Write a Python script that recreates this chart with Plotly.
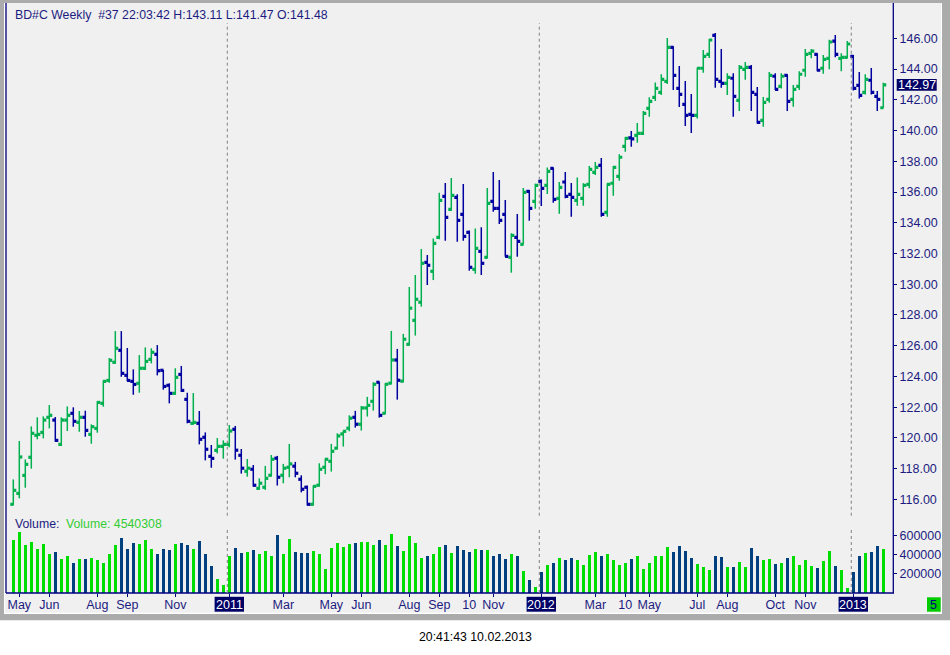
import pandas as pd
import plotly.graph_objects as go

# ---------------- data ----------------
first_week = "2010-05-02"

opens = [115.68, 116.39, 117.56, 118.74, 120.17, 120.36, 121.34, 121.16, 119.58, 121.16,
         121.60, 121.01, 121.34, 120.23, 120.62, 122.25, 123.74, 124.92, 125.70, 124.07,
         123.68, 123.55, 124.53, 125.11, 125.44, 124.40, 123.42, 122.90, 124.13, 122.51,
         120.95, 120.95, 120.04, 118.80, 119.19, 119.45, 119.58, 120.56, 118.87, 117.83,
         117.96, 116.72, 116.79, 117.57, 118.68, 117.57, 118.09, 118.16, 117.31, 116.79,
         115.68, 116.92, 118.09, 118.48, 119.33, 120.26, 120.63, 121.34, 120.89, 121.95,
         122.38, 123.62, 121.60, 123.56, 125.07, 123.69, 126.09, 127.65, 128.83, 131.42,
         130.84, 133.05, 135.72, 134.87, 135.65, 134.54, 133.37, 130.97, 132.14, 131.75,
         135.39, 134.93, 134.54, 131.75, 133.05, 132.59, 136.04, 135.39, 136.69, 136.43,
         137.54, 135.59, 136.65, 135.85, 135.46, 135.59, 136.50, 137.28, 137.73, 134.68,
         136.57, 137.02, 138.97, 139.52, 139.69, 139.82, 141.44, 142.16, 142.48, 143.20,
         145.41, 142.74, 141.70, 141.05, 140.99, 144.05, 144.96, 146.19, 143.20, 143.07,
         143.40, 141.96, 143.98, 144.11, 142.35, 140.66, 142.03, 143.53, 142.87, 143.59,
         142.03, 142.87, 143.92, 145.02, 144.96, 144.05, 144.70, 145.82, 144.70, 144.76,
         144.83, 142.94, 142.48, 143.27, 142.22, 141.48]

highs = [117.30, 119.80, 118.60, 120.75, 121.34, 121.40, 122.14, 121.36, 121.34, 122.05,
         121.99, 121.75, 121.77, 120.88, 122.40, 123.74, 125.20, 126.95, 126.95, 125.85,
         124.46, 125.39, 125.89, 125.83, 126.04, 124.42, 123.55, 124.53, 124.68, 122.94,
         122.92, 121.75, 120.36, 119.54, 119.99, 119.84, 120.84, 120.78, 119.28, 118.63,
         118.24, 117.37, 118.18, 118.89, 118.83, 118.31, 119.61, 118.44, 117.57, 116.90,
         116.90, 118.35, 118.68, 119.61, 120.30, 120.48, 121.47, 121.76, 122.08, 122.67,
         123.62, 123.66, 123.56, 126.96, 125.79, 126.77, 129.82, 130.60, 132.29, 131.90,
         132.98, 135.95, 136.58, 136.91, 135.85, 136.52, 133.50, 133.63, 133.70, 136.26,
         137.30, 136.78, 135.48, 133.31, 134.57, 136.26, 136.13, 136.54, 136.82, 137.60,
         137.60, 136.65, 137.30, 136.58, 136.95, 136.57, 137.69, 137.95, 138.21, 136.57,
         137.69, 138.45, 139.58, 139.97, 140.49, 141.27, 142.16, 143.13, 143.66, 146.02,
         145.48, 144.20, 143.22, 142.37, 144.10, 145.24, 145.95, 146.35, 145.30, 143.72,
         143.72, 144.26, 144.46, 144.26, 142.83, 142.18, 143.81, 143.72, 143.72, 143.66,
         142.96, 143.85, 145.30, 145.30, 145.02, 144.91, 145.91, 146.21, 145.02, 145.82,
         144.91, 143.81, 143.66, 144.07, 142.57, 143.11]

lows = [115.63, 116.07, 116.76, 118.00, 119.91, 119.97, 120.62, 119.75, 119.47, 120.45,
        120.73, 120.40, 120.08, 119.62, 120.34, 122.03, 123.59, 124.83, 123.98, 123.68,
        122.81, 122.94, 124.42, 124.85, 124.07, 123.14, 122.25, 122.81, 122.99, 120.95,
        120.86, 119.58, 118.54, 118.06, 118.99, 118.65, 119.39, 118.59, 117.68, 117.48,
        116.83, 116.62, 116.62, 117.48, 116.90, 117.05, 117.44, 117.44, 116.46, 115.60,
        115.60, 116.83, 117.64, 117.81, 119.26, 119.44, 120.43, 120.67, 120.48, 121.39,
        121.78, 121.32, 121.56, 123.49, 122.49, 123.62, 126.01, 126.66, 128.54, 129.95,
        130.27, 132.92, 132.83, 134.78, 132.77, 132.83, 130.88, 130.68, 130.60, 131.68,
        134.72, 133.92, 131.79, 130.75, 131.79, 132.59, 134.13, 134.91, 135.09, 135.87,
        135.30, 134.59, 135.59, 134.39, 135.11, 135.11, 136.24, 137.11, 134.39, 134.39,
        135.76, 136.74, 138.62, 138.95, 139.21, 139.71, 140.90, 141.92, 142.31, 143.03,
        142.64, 141.53, 140.29, 139.84, 140.79, 143.76, 144.72, 142.79, 142.79, 142.31,
        140.90, 141.27, 143.31, 141.27, 140.45, 140.25, 141.81, 142.64, 142.74, 141.27,
        141.55, 142.64, 143.50, 144.70, 143.85, 143.70, 143.98, 144.76, 143.85, 144.70,
        142.61, 142.09, 142.35, 142.35, 141.27, 141.47]

closes = [116.59, 118.76, 118.28, 120.30, 120.23, 121.16, 121.47, 119.84, 121.16, 121.47,
          121.08, 121.34, 120.49, 120.73, 122.31, 123.68, 125.05, 125.83, 124.20, 123.74,
          123.48, 124.53, 124.98, 125.57, 124.37, 123.35, 122.90, 123.94, 123.09, 121.08,
          121.01, 119.91, 119.26, 118.67, 119.45, 119.58, 120.45, 119.20, 118.03, 118.03,
          116.92, 117.05, 117.37, 118.61, 117.44, 118.03, 118.31, 117.70, 116.66, 115.68,
          116.85, 117.96, 118.61, 119.13, 120.13, 120.43, 121.28, 120.89, 121.95, 122.12,
          123.49, 121.47, 123.49, 125.07, 123.75, 126.42, 128.44, 129.02, 131.36, 131.23,
          132.66, 135.46, 134.35, 135.78, 134.15, 133.11, 131.10, 132.33, 131.36, 135.26,
          134.93, 134.15, 131.81, 133.18, 132.79, 135.98, 134.93, 136.43, 136.24, 137.34,
          135.52, 136.30, 135.72, 135.65, 135.85, 136.43, 137.47, 137.60, 134.55, 136.50,
          137.60, 138.26, 139.49, 139.45, 139.82, 141.12, 141.90, 142.74, 143.33, 145.41,
          143.59, 142.35, 140.99, 140.99, 144.05, 144.83, 145.89, 143.33, 143.07, 143.46,
          142.22, 144.11, 144.11, 142.48, 140.53, 141.83, 143.59, 142.68, 143.53, 141.90,
          142.68, 143.66, 144.96, 145.17, 143.92, 144.63, 145.76, 144.96, 144.76, 145.63,
          142.74, 142.29, 143.33, 142.48, 142.03, 142.97]

volumes = [555000, 638500, 496000, 534000, 461000, 513000, 402000, 430000, 357000, 388000,
           309000, 357000, 357000, 368000, 347000, 316000, 402000, 496000, 576000, 461000,
           524000, 513000, 555000, 461000, 409000, 461000, 451000, 513000, 524000, 496000,
           461000, 545000, 409000, 284000, 149000, 86000, 388000, 472000, 420000, 430000,
           451000, 402000, 441000, 388000, 607000, 409000, 566000, 430000, 420000, 420000,
           441000, 409000, 253000, 472000, 524000, 482000, 513000, 524000, 534000, 534000,
           496000, 555000, 503000, 618000, 493000, 441000, 590000, 524000, 368000, 388000,
           409000, 482000, 503000, 420000, 493000, 451000, 430000, 461000, 451000, 451000,
           388000, 409000, 357000, 409000, 388000, 232000, 139000, 66000, 222000, 295000,
           312000, 368000, 347000, 368000, 347000, 295000, 399000, 430000, 388000, 402000,
           347000, 295000, 316000, 357000, 388000, 253000, 316000, 388000, 388000, 482000,
           430000, 493000, 441000, 368000, 305000, 274000, 243000, 388000, 378000, 274000,
           274000, 326000, 274000, 472000, 388000, 347000, 357000, 305000, 316000, 368000,
           388000, 295000, 347000, 284000, 264000, 336000, 441000, 284000, 243000, 55000,
           222000, 388000, 420000, 430000, 493000, 461000]

tick_dates = ["2010-05-09", "2010-06-13", "2010-08-08", "2010-09-12", "2010-11-07",
              "2011-01-09", "2011-03-13", "2011-05-08", "2011-06-12", "2011-08-07",
              "2011-09-11", "2011-10-16", "2011-11-13", "2012-01-08", "2012-03-11",
              "2012-04-15", "2012-05-13", "2012-07-08", "2012-08-12", "2012-10-07",
              "2012-11-11", "2013-01-06"]
tick_labels = ["May", "Jun", "Aug", "Sep", "Nov", "2011", "Mar", "May", "Jun", "Aug",
               "Sep", "10", "Nov", "2012", "Mar", "10", "May", "Jul", "Aug", "Oct",
               "Nov", "2013"]
year_labels = ["2011", "2012", "2013"]

price_ticks = [116, 118, 120, 122, 124, 126, 128, 130, 132, 134, 136, 138, 140, 142, 144, 146]
volume_ticks = [200000, 400000, 600000]
last_price = 142.97

header_text = "BD#C Weekly  #37 22:03:42 H:143.11 L:141.47 O:141.48"
volume_name = "Volume:"
volume_value_text = "Volume: 4540308"
footer_text = "20:41:43 10.02.2013"
corner_text = "5"

# ---------------- styling ----------------
W, H = 950, 655
ML, MR, MT, MB = 7, 57, 3, 62
PW, PH = W - ML - MR, H - MT - MB
FONT = "Liberation Sans, Arial, sans-serif"
NAVY_TXT = "#1c1c80"
AXIS = "#000080"
UP = "#00b050"
DOWN = "#0000a0"
VUP = "#00dd00"
VDOWN = "#00407f"
BG = "#f0f0f0"


def fx(px):
    return (px - ML) / PW


def fy(py):
    return (H - MB - py) / PH


weeks = pd.date_range(first_week, periods=len(opens), freq="7D")
week = pd.Timedelta(days=7)
bar_up = [c >= o for o, c in zip(opens, closes)]
price_colors = [UP if u else DOWN for u in bar_up]
vol_colors = [VUP if u else VDOWN for u in bar_up]

x_range = [weeks[0] - 1.05 * week, weeks[0] + 146.62 * week]
price_bottom_px, vol_top_px = 515.7, 517.0
px_per_unit = 15.37
p_top = 146 + (38.3 - MT) / px_per_unit
p_bot = 146 - (price_bottom_px - 38.3) / px_per_unit
v_top = (H - MB - vol_top_px) / 19.2 * 200000

fig = go.Figure()

fig.add_trace(go.Ohlc(
    x=weeks, open=opens, high=highs, low=lows, close=closes,
    increasing=dict(line=dict(color=UP, width=1.5)),
    decreasing=dict(line=dict(color=DOWN, width=1.5)),
    tickwidth=0.0, xaxis="x", yaxis="y", showlegend=False, hoverinfo="x+y"))

offset = pd.Timedelta(hours=39)
fig.add_trace(go.Scatter(
    x=weeks - offset, y=opens, mode="markers", xaxis="x", yaxis="y",
    marker=dict(symbol="square", size=3.2, color=price_colors, line=dict(width=0)),
    showlegend=False, hoverinfo="skip"))
fig.add_trace(go.Scatter(
    x=weeks + offset, y=closes, mode="markers", xaxis="x", yaxis="y",
    marker=dict(symbol="square", size=3.2, color=price_colors, line=dict(width=0)),
    showlegend=False, hoverinfo="skip"))

fig.add_trace(go.Bar(
    x=weeks, y=volumes, marker=dict(color=vol_colors, line=dict(width=0)),
    width=0.5 * 7 * 86400000, xaxis="x2", yaxis="y2", showlegend=False))

shapes = []
# window frame
shapes.append(dict(type="rect", xref="paper", yref="paper", x0=fx(0), x1=fx(950),
                   y0=fy(620.3), y1=fy(0), fillcolor="#ababab", line=dict(width=0), layer="below"))
shapes.append(dict(type="rect", xref="paper", yref="paper", x0=fx(4), x1=fx(942),
                   y0=fy(614), y1=fy(3), fillcolor="#ffffff", line=dict(width=0), layer="below"))
shapes.append(dict(type="rect", xref="paper", yref="paper", x0=fx(5), x1=fx(941),
                   y0=fy(612.7), y1=fy(3), fillcolor=BG, line=dict(width=0), layer="below"))
# axis lines
shapes.append(dict(type="line", xref="paper", yref="paper", x0=fx(6), x1=fx(6),
                   y0=fy(593), y1=fy(3), line=dict(color=AXIS, width=1.3)))
shapes.append(dict(type="line", xref="paper", yref="paper", x0=fx(893.3), x1=fx(893.3),
                   y0=fy(593.5), y1=fy(3), line=dict(color=AXIS, width=1.3)))
shapes.append(dict(type="line", xref="paper", yref="paper", x0=fx(6), x1=fx(893.8),
                   y0=fy(593), y1=fy(593), line=dict(color=AXIS, width=1.3)))

annotations = []
# year separators and year label boxes
for d, lab in zip(tick_dates, tick_labels):
    if lab in year_labels:
        t = pd.Timestamp(d)
        sx = t - pd.Timedelta(hours=56)
        shapes.append(dict(type="line", xref="x", yref="paper", x0=sx, x1=sx,
                           y0=fy(price_bottom_px), y1=fy(23),
                           line=dict(color="#808080", width=1, dash="dot")))
        shapes.append(dict(type="line", xref="x", yref="paper", x0=sx, x1=sx,
                           y0=fy(593), y1=fy(530),
                           line=dict(color="#808080", width=1, dash="dot")))
        half = pd.Timedelta(days=7 * 14.7 / 6)
        shapes.append(dict(type="rect", xref="x", yref="paper", x0=t - half, x1=t + half,
                           y0=fy(611.7), y1=fy(596.8), fillcolor="#000066", line=dict(width=0)))
        annotations.append(dict(x=t, y=fy(604.5), xref="x", yref="paper", text=lab,
                                showarrow=False, font=dict(family=FONT, size=12.5, color="#ffffff"),
                                xanchor="center", yanchor="middle"))

# last price box
hh = 5.85 / px_per_unit
shapes.append(dict(type="rect", xref="paper", yref="y", x0=fx(896.7), x1=fx(936.7),
                   y0=last_price - hh, y1=last_price + hh, fillcolor="#000066", line=dict(width=0)))
annotations.append(dict(x=fx(916.7), y=last_price, xref="paper", yref="y", text=f"{last_price:.2f}",
                        showarrow=False, font=dict(family=FONT, size=12.5, color="#ffffff"),
                        xanchor="center", yanchor="middle"))
# corner box
shapes.append(dict(type="rect", xref="paper", yref="paper", x0=fx(927), x1=fx(940.7),
                   y0=fy(611.7), y1=fy(597.3), fillcolor="#00cc00", line=dict(width=0)))
annotations.append(dict(x=fx(933.8), y=fy(604.5), xref="paper", yref="paper", text=corner_text,
                        showarrow=False, font=dict(family=FONT, size=12.5, color=AXIS),
                        xanchor="center", yanchor="middle"))
# texts
annotations.append(dict(x=fx(12.5), y=fy(15), xref="paper", yref="paper", text=header_text,
                        showarrow=False, font=dict(family=FONT, size=12.3, color=NAVY_TXT),
                        xanchor="left", yanchor="middle"))
annotations.append(dict(x=fx(12.5), y=fy(524), xref="paper", yref="paper", text=volume_name,
                        showarrow=False, font=dict(family=FONT, size=12.3, color=NAVY_TXT),
                        xanchor="left", yanchor="middle"))
annotations.append(dict(x=fx(64), y=fy(524), xref="paper", yref="paper", text=volume_value_text,
                        showarrow=False, font=dict(family=FONT, size=12.3, color="#33cc33"),
                        xanchor="left", yanchor="middle"))
annotations.append(dict(x=fx(475), y=fy(637), xref="paper", yref="paper", text=footer_text,
                        showarrow=False, font=dict(family=FONT, size=12.3, color="#000000"),
                        xanchor="center", yanchor="middle"))

shown_text = ["" if lab in year_labels else lab for lab in tick_labels]
price_domain = [fy(price_bottom_px), 1]
vol_domain = [0, fy(vol_top_px)]

fig.update_layout(
    width=W, height=H,
    margin=dict(l=ML, r=MR, t=MT, b=MB, pad=0),
    paper_bgcolor="#ffffff", plot_bgcolor=BG,
    font=dict(family=FONT, size=12, color=NAVY_TXT),
    showlegend=False, hovermode=False, bargap=0,
    xaxis=dict(domain=[0, 1], anchor="y", range=x_range, type="date",
               showticklabels=False, showgrid=False, zeroline=False, ticks="",
               rangeslider=dict(visible=False), matches="x2"),
    yaxis=dict(domain=price_domain, anchor="x", side="right", range=[p_bot, p_top],
               tickvals=price_ticks, tickformat=".2f", ticks="outside", ticklen=3,
               tickcolor=AXIS, showgrid=False, zeroline=False,
               tickfont=dict(family=FONT, size=12.5, color=NAVY_TXT)),
    xaxis2=dict(domain=[0, 1], anchor="y2", range=x_range, type="date",
                tickvals=tick_dates, ticktext=shown_text, ticks="outside", ticklen=3,
                tickcolor=AXIS, showgrid=False, zeroline=False, ticklabelstandoff=-3,
                tickfont=dict(family=FONT, size=12.5, color=NAVY_TXT)),
    yaxis2=dict(domain=vol_domain, anchor="x2", side="right", range=[0, v_top],
                tickvals=volume_ticks, tickformat="d", ticks="outside", ticklen=3,
                tickcolor=AXIS, showgrid=False, zeroline=False,
                tickfont=dict(family=FONT, size=12.5, color=NAVY_TXT)),
    shapes=shapes, annotations=annotations,
)

fig.write_html("out.html", config={"displayModeBar": False, "staticPlot": True},
               post_script="document.body.style.margin='0';document.body.style.padding='0';")
